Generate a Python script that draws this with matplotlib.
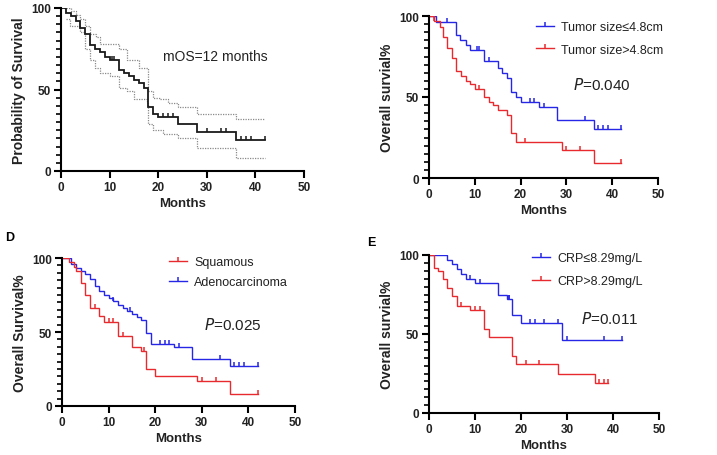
import numpy as np
import matplotlib
matplotlib.use("Agg")
import matplotlib.pyplot as plt
from matplotlib.lines import Line2D
from matplotlib.ticker import MultipleLocator

plt.rcParams['font.family'] = ['Liberation Sans', 'DejaVu Sans']

# ---------------- data ----------------
# Panel A: overall survival (with 95% CI)
a_t = [0, 1, 2, 3, 4, 5, 6, 7, 8, 9, 10, 12, 13, 14, 15, 16, 17, 18, 19, 20, 24, 28, 36]
a_s = [100, 97, 95, 92, 88, 84, 77, 75, 73, 70, 68, 62, 60, 58, 56, 54, 51, 39, 35, 33, 29, 24, 19]
a_cens = [10.5, 11, 21, 22, 23, 30, 33, 34, 37, 38, 39, 42]
a_up_t = [0, 2, 3, 4, 5, 6, 7.3, 8, 12, 13.5, 16, 18, 19, 20.3, 22, 24, 28, 36, 42]
a_up_s = [100, 98, 96, 93, 89, 84, 82, 78, 75, 68, 63, 49, 45, 44, 42, 39, 35, 32, 32]
a_lo_t = [1, 1.8, 4, 5, 6, 7, 8, 10, 12, 13.5, 15, 17.6, 18, 19, 21, 24, 28, 36, 42]
a_lo_s = [93, 89, 85, 75, 68, 63, 60, 58, 51, 49, 44, 42, 29, 25, 23, 20, 14, 8, 8]

# Panel B: tumor size
b1_t = [0, 1.6, 6, 6.7, 8, 9, 12, 15, 16, 17, 18, 19, 20, 24, 28, 36]
b1_s = [100, 96, 88, 85, 82, 79, 72, 68, 65, 62, 53, 50, 47, 44, 36, 30]
b1_cens = [4, 10.5, 11, 13, 22, 23, 25, 34, 37, 38, 39, 42]
b2_t = [0, 1, 2.5, 3, 4, 5, 6, 7, 8, 9, 10, 12, 13, 14, 15, 17, 18, 19, 29, 36]
b2_s = [100, 97, 93, 87, 80, 74, 66, 63, 60, 58, 55, 50, 47, 45, 42, 39, 28, 22, 17, 9]
b2_cens = [1, 11, 21, 30, 33, 42]

# Panel D: histology
d1_t = [0, 1.5, 2.5, 3, 4, 5, 6, 8, 9, 12, 15, 17, 18, 20, 29, 36]
d1_s = [100, 97, 94, 91, 83, 75, 66, 61, 57, 47, 40, 37, 25, 20, 17, 8]
d1_cens = [1.3, 7, 10, 11, 13, 17.5, 30, 33, 42]
d2_t = [0, 2, 3, 4, 5, 6, 7, 8, 9, 10, 11, 12, 13, 14, 15, 16, 17, 18, 19, 24, 28, 36]
d2_s = [100, 96, 93, 91, 89, 86, 81, 78, 75, 73, 71, 68, 66, 64, 62, 60, 58, 49, 42, 40, 32, 27]
d2_cens = [1.3, 11, 14.5, 21, 22, 23, 25, 34, 37, 38, 39, 42]

# Panel E: CRP
e1_t = [0, 4, 5, 6, 7, 8, 10, 15, 17, 18, 20, 29]
e1_s = [100, 97, 94, 91, 88, 85, 82, 75, 72, 62, 57, 46]
e1_cens = [9, 11, 17.3, 17.5, 22, 23, 25, 28, 30, 38, 42]
e2_t = [0, 1, 2, 3, 4, 5, 6, 9, 12, 13, 18, 19, 28, 36]
e2_s = [100, 92, 90, 85, 79, 74, 68, 65, 53, 48, 36, 31, 25, 19]
e2_cens = [7, 10, 11, 21, 24, 37, 38, 39]

BLUE = '#2626e6'
RED = '#e8292d'
TXT = '#222222'
MS = 2.6

W, H = 717, 456
fig = plt.figure(figsize=(7.17, 4.56), dpi=100)


def surv_at(t_list, s_list, x):
    idx = np.searchsorted(np.asarray(t_list), x, side='right') - 1
    return np.asarray(s_list)[idx]


def km(ax, t, s, cens, color, lw=1.0, end=None):
    tt = list(t)
    ss = list(s)
    last = max(max(cens) if cens else 0, end if end else 0)
    if last > tt[-1]:
        tt.append(last)
        ss.append(ss[-1])
    ax.step(tt, ss, where='post', color=color, lw=lw, solid_joinstyle='miter')
    if cens:
        cy = [surv_at(t, s, c) for c in cens]
        ax.plot(cens, cy, ls='none', marker=2, ms=MS, mew=1.1, color=color)


def style(ax, ylabel):
    ax.set_xlim(0, 50)
    ax.set_ylim(0, 100)
    for sp in ['top', 'right']:
        ax.spines[sp].set_visible(False)
    for sp in ['left', 'bottom']:
        ax.spines[sp].set_linewidth(1.5)
        ax.spines[sp].set_color('black')
    ax.xaxis.set_major_locator(MultipleLocator(10))
    ax.yaxis.set_major_locator(MultipleLocator(50))
    ax.yaxis.set_minor_locator(MultipleLocator(5))
    ax.tick_params(axis='both', which='major', direction='out', length=5, width=1.5,
                   labelsize=8.5, colors='black', labelcolor=TXT, pad=2)
    ax.tick_params(axis='y', which='minor', direction='out', length=3.5, width=1.2,
                   colors='black', left=True)
    for lab in ax.get_xticklabels() + ax.get_yticklabels():
        lab.set_fontweight('bold')
    ax.set_xlabel('Months', fontsize=9.5, fontweight='bold', color=TXT, labelpad=3)
    ax.set_ylabel(ylabel, fontsize=10, fontweight='bold', color=TXT, labelpad=4)
    ax.patch.set_alpha(0)


def leg(ax, labels, colors, x_px, top_px, spacing):
    handles = [Line2D([0], [0], color=c, lw=1.0, marker=2, ms=MS, mew=1.1) for c in colors]
    ax.legend(handles, labels, loc='upper left',
              bbox_to_anchor=(x_px / W, 1 - top_px / H), bbox_transform=fig.transFigure,
              frameon=False, fontsize=9, handlelength=1.4, handletextpad=0.6,
              labelspacing=spacing, labelcolor=TXT, numpoints=1,
              borderpad=0, borderaxespad=0)


def add_ax(l, r, t, b):
    return fig.add_axes([l / W, (H - b) / H, (r - l) / W, (b - t) / H])


# Panel A
axA = add_ax(61, 304, 9, 172)
style(axA, 'Probability of Survival')
axA.step(a_up_t, a_up_s, where='post', color='#8a8a8a', lw=0.9, ls=(0, (1, 1)))
axA.step(a_lo_t, a_lo_s, where='post', color='#8a8a8a', lw=0.9, ls=(0, (1, 1)))
km(axA, a_t, a_s, a_cens, '#1a1a1a', lw=1.3)
axA.text(163 / W, 1 - 57 / H, 'mOS=12 months', transform=fig.transFigure, fontsize=10,
         color=TXT, va='center')

# Panel B
axB = add_ax(429, 658, 17, 179)
style(axB, 'Overall survial%')
km(axB, b1_t, b1_s, b1_cens, BLUE)
km(axB, b2_t, b2_s, b2_cens, RED)
leg(axB, ['Tumor size≤4.8cm', 'Tumor size>4.8cm'], [BLUE, RED], 536, 22, 0.85)
axB.text(0.63, 0.55, r'$\it{P}$=0.040', transform=axB.transAxes, fontsize=11, color=TXT)

# Panel D
axD = add_ax(62, 295, 259, 407)
style(axD, 'Overall Survival%')
km(axD, d2_t, d2_s, d2_cens, BLUE)
km(axD, d1_t, d1_s, d1_cens, RED)
leg(axD, ['Squamous', 'Adenocarcinoma'], [RED, BLUE], 169, 257, 0.65)
axD.text(0.61, 0.52, r'$\it{P}$=0.025', transform=axD.transAxes, fontsize=11, color=TXT)
fig.text(5 / W, 1 - 238 / H, 'D', fontsize=9, fontweight='bold', va='center')

# Panel E
axE = add_ax(429, 659, 256, 414)
style(axE, 'Overall survial%')
km(axE, e1_t, e1_s, e1_cens, BLUE)
km(axE, e2_t, e2_s, e2_cens, RED)
leg(axE, ['CRP≤8.29mg/L', 'CRP>8.29mg/L'], [BLUE, RED], 532, 253, 0.9)
axE.text(0.66, 0.57, r'$\it{P}$=0.011', transform=axE.transAxes, fontsize=11, color=TXT)
fig.text(367 / W, 1 - 243 / H, 'E', fontsize=9, fontweight='bold', va='center')

fig.savefig('out.png', dpi=100, facecolor='white')
